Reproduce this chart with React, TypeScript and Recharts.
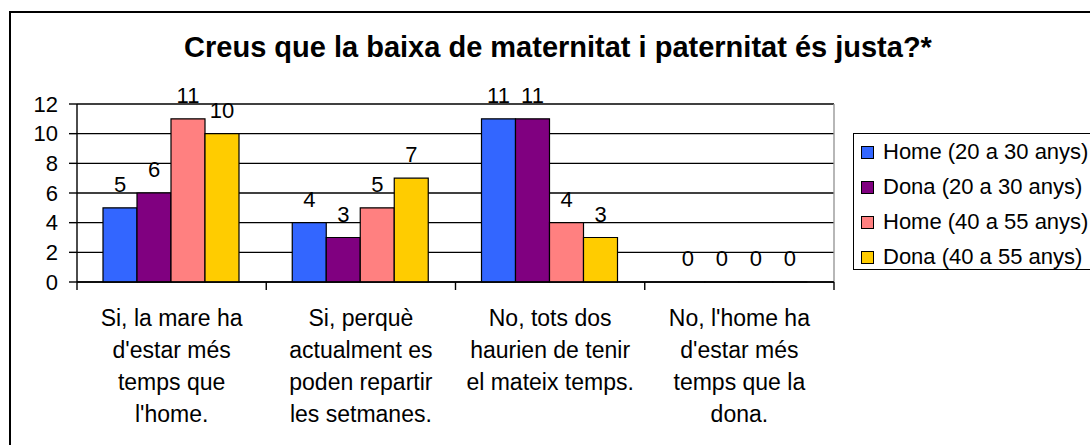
import React from 'react';
import {
  BarChart,
  Bar,
  XAxis,
  YAxis,
  CartesianGrid,
  Legend,
  LabelList,
} from 'recharts';

// Chart data
const TITLE = 'Creus que la baixa de maternitat i paternitat és justa?*';

const CATEGORIES = [
  "Si, la mare ha\nd'estar més\ntemps que\nl'home.",
  'Si, perquè\nactualment es\npoden repartir\nles setmanes.',
  'No, tots dos\nhaurien de tenir\nel mateix temps.',
  "No, l'home ha\nd'estar més\ntemps que la\ndona.",
];

const HOME_20_30 = [5, 4, 11, 0];
const DONA_20_30 = [6, 3, 11, 0];
const HOME_40_55 = [11, 5, 4, 0];
const DONA_40_55 = [10, 7, 3, 0];

const Y_TICKS = [0, 2, 4, 6, 8, 10, 12];

const SERIES = [
  { key: 'h2030', name: 'Home (20 a 30 anys)', color: '#3366FF', values: HOME_20_30 },
  { key: 'd2030', name: 'Dona (20 a 30 anys)', color: '#800080', values: DONA_20_30 },
  { key: 'h4055', name: 'Home (40 a 55 anys)', color: '#FF8080', values: HOME_40_55 },
  { key: 'd4055', name: 'Dona (40 a 55 anys)', color: '#FFCC00', values: DONA_40_55 },
];

const data = CATEGORIES.map((cat, i) => {
  const row: { [key: string]: any } = { category: cat };
  SERIES.forEach((s) => {
    row[s.key] = s.values[i];
  });
  return row;
});

const FONT = '"Liberation Sans", Arial, sans-serif';

// x tick: wrapped label + tick marks on category boundaries
function CategoryTick(props: any) {
  const { x, y, payload, width, visibleTicksCount, index } = props;
  const half = width / visibleTicksCount / 2;
  const lines = String(payload.value).split('\n');
  return (
    <g>
      <line x1={x - half} x2={x - half} y1={y} y2={y + 8} stroke="#000" strokeWidth={1.4} />
      {index === visibleTicksCount - 1 && (
        <line x1={x + half} x2={x + half} y1={y} y2={y + 8} stroke="#000" strokeWidth={1.4} />
      )}
      <text textAnchor="middle" fontSize={23} fill="#000" fontFamily={FONT}>
        {lines.map((line, i) => (
          <tspan key={i} x={x} y={y + 44 + i * 32}>
            {line}
          </tspan>
        ))}
      </text>
    </g>
  );
}

function LegendBox(props: any) {
  const order = SERIES.map((s) => s.name);
  const items = [...(props.payload || [])].sort(
    (a: any, b: any) => order.indexOf(a.value) - order.indexOf(b.value)
  );
  return (
    <div
      style={{
        border: '1.4px solid #000',
        width: 245,
        height: 137,
        boxSizing: 'border-box',
        background: '#fff',
        fontFamily: FONT,
        fontSize: 22,
        color: '#000',
      }}
    >
      {items.map((entry: any, i: number) => (
        <div
          key={entry.value}
          style={{
            position: 'absolute',
            left: 8,
            top: 6 + i * 35,
            height: 26,
            lineHeight: '26px',
            whiteSpace: 'nowrap',
          }}
        >
          <span
            style={{
              display: 'inline-block',
              width: 11,
              height: 11,
              background: entry.color,
              border: '1px solid #000',
              marginRight: 9,
              verticalAlign: '0px',
            }}
          />
          {entry.value}
        </div>
      ))}
    </div>
  );
}

export default function App() {
  return (
    <div
      style={{
        position: 'absolute',
        left: 0,
        top: 0,
        width: 1090,
        height: 445,
        overflow: 'hidden',
        background: '#fff',
        fontFamily: FONT,
      }}
    >
      <div
        style={{
          position: 'absolute',
          left: 9,
          top: 11,
          width: 1200,
          height: 600,
          border: '2.5px solid #000',
        }}
      />
      <div
        style={{
          position: 'absolute',
          left: 0,
          top: 33,
          width: 1116,
          textAlign: 'center',
          fontSize: 29,
          lineHeight: '29px',
          fontWeight: 'bold',
          color: '#000',
          whiteSpace: 'nowrap',
        }}
      >
        {TITLE}
      </div>
      <div style={{ position: 'absolute', left: 0, top: 0 }}>
        <BarChart
          width={1090}
          height={445}
          data={data}
          margin={{ top: 104, right: 256, bottom: 0, left: 17 }}
          barCategoryGap={26}
          barGap={0}
        >
          <CartesianGrid vertical={false} stroke="#000" strokeWidth={1.4} />
          <CartesianGrid
            horizontal={false}
            stroke="#999"
            strokeWidth={1.4}
            verticalCoordinatesGenerator={({ offset }: any) => [offset.left + offset.width]}
          />
          <XAxis
            dataKey="category"
            interval={0}
            height={163}
            tickSize={0}
            tickMargin={0}
            tickLine={false}
            axisLine={{ stroke: '#000', strokeWidth: 1.4 }}
            tick={<CategoryTick />}
          />
          <YAxis
            width={60}
            domain={[0, 12]}
            ticks={Y_TICKS}
            interval={0}
            tickSize={8}
            tickMargin={11}
            axisLine={{ stroke: '#000', strokeWidth: 1.4 }}
            tickLine={{ stroke: '#000', strokeWidth: 1.4 }}
            tick={{ fill: '#000', fontSize: 22, fontFamily: FONT }}
          />
          <Legend
            layout="vertical"
            align="center"
            verticalAlign="middle"
            itemSorter={null as any}
            wrapperStyle={{ left: 853, top: 133, width: 245, height: 137 }}
            content={<LegendBox />}
          />
          {SERIES.map((s) => (
            <Bar
              key={s.key}
              dataKey={s.key}
              name={s.name}
              fill={s.color}
              stroke="#000"
              strokeWidth={1.2}
              minPointSize={(v: number) => (v === 0 ? 0.01 : 0)}
              isAnimationActive={false}
            >
              <LabelList
                dataKey={s.key}
                position="top"
                offset={16}
                fill="#000"
                fontSize={22}
                fontFamily={FONT}
              />
            </Bar>
          ))}
        </BarChart>
      </div>
    </div>
  );
}
